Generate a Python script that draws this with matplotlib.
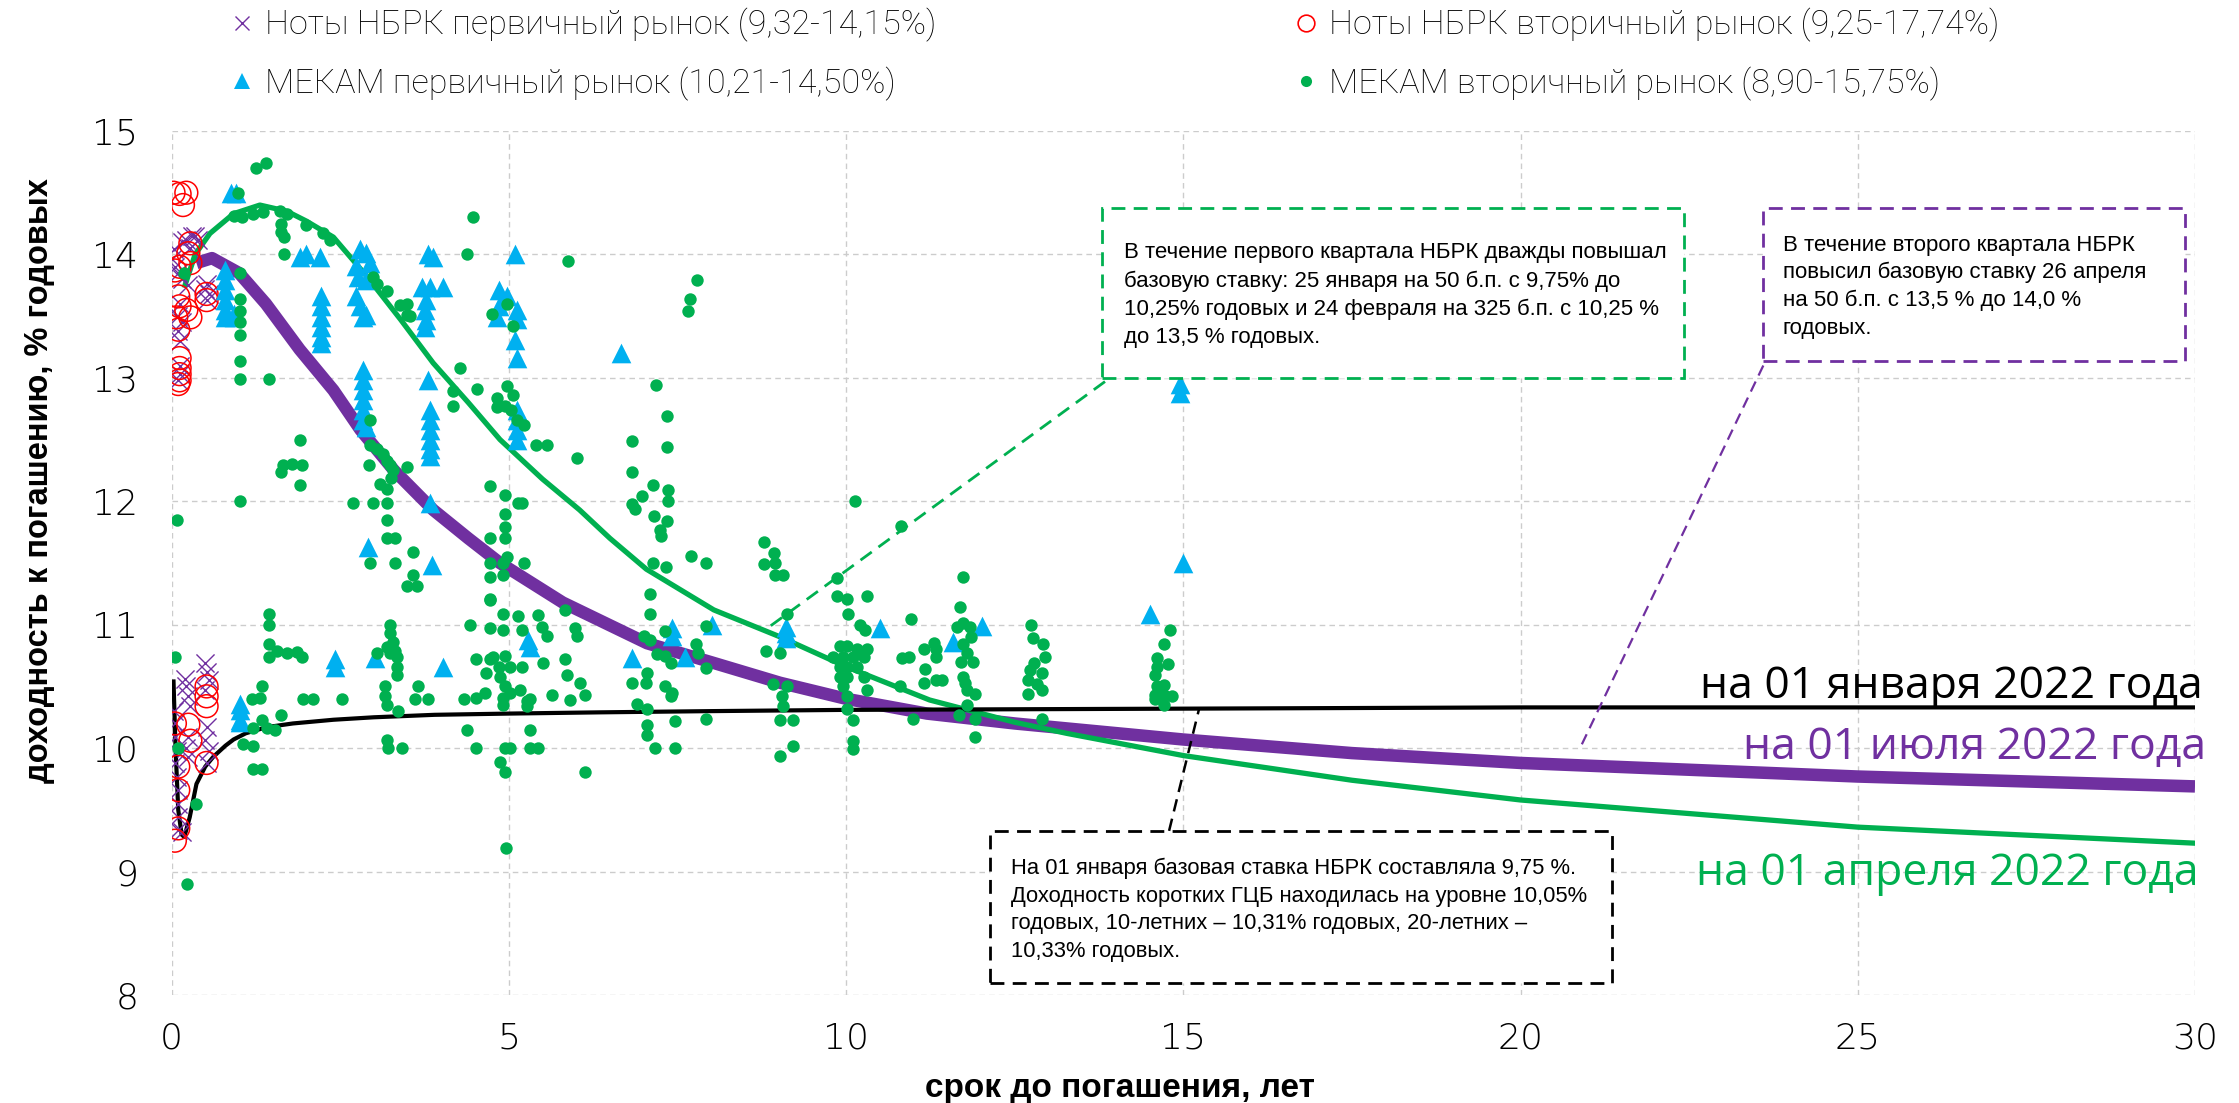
import matplotlib
matplotlib.use("Agg")
import matplotlib.pyplot as plt
from matplotlib.lines import Line2D
from matplotlib.patches import Rectangle

# ---- data ----
legend_labels = [
    "Ноты НБРК первичный рынок (9,32-14,15%)",
    "МЕКАМ первичный рынок (10,21-14,50%)",
    "Ноты НБРК вторичный рынок (9,25-17,74%)",
    "МЕКАМ вторичный рынок (8,90-15,75%)",
]
curve_labels = ["на 01 января 2022 года", "на 01 апреля 2022 года", "на 01 июля 2022 года"]

# zero-coupon curves
jan_x = [0.03, 0.06, 0.1, 0.15, 0.19, 0.27, 0.37, 0.5, 0.62, 0.8, 0.92, 1.1, 1.41, 1.8,
         2.4, 3.0, 3.9, 5.0, 6.35, 8, 10, 15, 20, 25, 30]
jan_y = [10.54, 10.0, 9.5, 9.3, 9.28, 9.44, 9.71, 9.85, 9.93, 10.02, 10.07, 10.12, 10.17, 10.2,
         10.23, 10.25, 10.27, 10.28, 10.29, 10.3, 10.31, 10.32, 10.33, 10.33, 10.33]

apr_x = [0.2, 0.35, 0.57, 0.92, 1.31, 1.71, 2.0, 2.4, 2.9, 3.4, 3.88, 4.4, 4.87, 5.5, 6.05,
         6.5, 7.04, 8.04, 9.03, 10.0, 11.24, 12.5, 13.27, 15, 17.5, 20, 25, 30]
apr_y = [13.75, 14.0, 14.17, 14.33, 14.4, 14.35, 14.27, 14.14, 13.82, 13.47, 13.12, 12.8,
         12.5, 12.18, 11.93, 11.7, 11.45, 11.12, 10.9, 10.66, 10.39, 10.21, 10.12, 9.94, 9.74,
         9.58, 9.36, 9.23]

jul_x = [0.37, 0.6, 1.0, 1.4, 1.9, 2.4, 2.8, 3.3, 3.88, 4.4, 4.87, 5.8, 7.05, 8.04, 9.02,
         10.0, 11.2, 12.5, 15, 17.5, 20, 25, 30]
jul_y = [13.93, 13.97, 13.85, 13.6, 13.23, 12.9, 12.58, 12.25, 11.93, 11.7, 11.5, 11.18,
         10.85, 10.69, 10.53, 10.4, 10.28, 10.2, 10.07, 9.96, 9.88, 9.77, 9.69]

# notes NBRK, primary market
np_x = [0.35, 0.22, 0.28, 0.15, 0.3, 0.4, 0.03, 0.0, 0.05, 0.1, 0.15, 0.25, 0.52, 0.5, 0.55,
        0.52, 0.13, 0.1, 0.15, 0.1, 0.13, 0.12, 0.12, 0.1,
        0.03, 0.05, 0.05, 0.08, 0.05, 0.08, 0.1, 0.1, 0.1, 0.1, 0.2, 0.22, 0.25, 0.28, 0.25,
        0.22, 0.25, 0.5, 0.52, 0.55, 0.5, 0.52, 0.5, 0.55, 0.52, 0.15]
np_y = [14.15, 14.12, 14.05, 14.1, 14.15, 14.12, 14.04, 13.96, 13.9, 13.85, 13.8, 13.75,
        13.76, 13.72, 13.68, 13.63, 13.6, 13.5, 13.45, 13.38, 13.3, 13.1, 13.03, 12.98,
        10.3, 10.2, 10.09, 9.98, 9.88, 9.77, 9.66, 9.55, 9.44, 9.34, 10.56, 10.5, 10.42,
        10.34, 10.09, 10.0, 9.93, 10.69, 10.62, 10.55, 10.47, 10.17, 10.07, 9.98, 9.88, 9.32]

# notes NBRK, secondary market
ns_x = [0.03, 0.12, 0.22, 0.17, 0.28, 0.25, 0.12, 0.28, 0.05, 0.52, 0.52, 0.1, 0.12, 0.22,
        0.07, 0.28, 0.1, 0.12, 0.12, 0.12, 0.12, 0.1,
        0.05, 0.25, 0.28, 0.52, 0.52, 0.52, 0.52, 0.1, 0.1, 0.1, 0.05]
ns_y = [14.5, 14.49, 14.5, 14.4, 14.09, 14.01, 13.9, 13.93, 13.87, 13.68, 13.63, 13.66,
        13.58, 13.55, 13.49, 13.49, 13.39, 13.16, 13.08, 13.03, 12.98, 12.95,
        10.2, 10.19, 10.06, 10.5, 10.42, 10.34, 9.88, 9.85, 9.66, 9.35, 9.25]

# MEKAM, primary market
mp_x = [0.88, 0.95, 0.79, 0.79, 0.79, 0.79, 0.79, 0.79, 0.92, 0.92,
        2.0, 2.2, 1.9, 2.22, 2.22, 2.22, 2.22, 2.22, 2.22,
        2.79, 2.89, 2.94, 2.74, 2.77, 2.89, 2.74, 2.79, 2.89, 2.84,
        2.84, 2.84, 2.84, 2.84, 2.84, 2.84, 2.89,
        3.81, 3.88, 3.71, 3.83, 4.03, 3.78, 3.76, 3.78, 3.76,
        3.81, 3.83, 3.83, 3.83, 3.83, 3.83, 3.83, 3.83,
        2.92, 3.86,
        5.09, 4.85, 4.97, 4.85, 5.12, 4.82, 5.12, 5.09, 5.12,
        5.12, 5.12, 5.12, 5.12, 6.66,
        1.02, 1.02, 1.02, 1.02, 2.42, 2.42, 3.02, 4.02, 5.29, 5.32,
        6.82, 7.42, 7.42, 7.61, 8.01, 9.11, 9.11, 9.11, 10.5,
        11.59, 12.01, 14.5, 15.0, 14.95, 14.95]
mp_y = [14.5, 14.5, 13.87, 13.79, 13.71, 13.63, 13.55, 13.49, 13.52, 13.49,
        14.0, 13.98, 13.98, 13.66, 13.58, 13.49, 13.41, 13.33, 13.28,
        14.04, 14.01, 13.93, 13.91, 13.82, 13.79, 13.66, 13.58, 13.51, 13.49,
        13.06, 12.98, 12.9, 12.82, 12.74, 12.66, 12.6,
        14.0, 13.98, 13.74, 13.74, 13.74, 13.63, 13.55, 13.47, 13.41,
        12.98, 12.74, 12.66, 12.58, 12.5, 12.42, 12.37, 11.99,
        11.63, 11.48,
        14.0, 13.71, 13.66, 13.58, 13.55, 13.49, 13.48, 13.31, 13.16,
        12.74, 12.66, 12.58, 12.5, 13.2,
        10.36, 10.31, 10.23, 10.21, 10.72, 10.66, 10.73, 10.66, 10.88, 10.82,
        10.73, 10.97, 10.91, 10.74, 11.0, 10.98, 10.93, 10.89, 10.97,
        10.86, 10.99, 11.09, 11.5, 12.95, 12.88]

# MEKAM, secondary market
ms_x = [1.26, 1.4, 0.99, 0.92, 1.05, 1.21, 1.36, 1.61, 1.71, 1.63, 1.63, 1.67, 1.67,
        2.0, 2.25, 2.35, 4.47, 4.38, 5.88, 1.02, 0.18,
        1.02, 1.02, 1.02, 1.02, 1.02, 1.02, 1.44,
        2.99, 3.04, 3.19, 3.39, 3.49, 3.49, 3.54,
        4.28, 4.53, 4.18, 4.18, 4.75, 4.97, 5.07,
        4.97, 5.07, 4.82, 4.82, 4.94, 5.04, 5.12, 5.22, 5.41, 5.56, 6.01,
        1.91, 1.66, 1.78, 1.93, 1.63, 1.91, 1.02, 0.08, 2.94,
        2.94, 3.04, 3.14, 3.19, 3.24, 3.29, 2.93, 3.09, 3.19, 3.19, 3.19, 3.19, 3.31, 3.49, 3.26,
        2.69, 2.98, 3.58, 3.58, 3.49, 3.64, 2.94, 3.31,
        4.72, 4.94, 5.14, 5.19, 4.94, 4.94, 4.94, 4.72, 4.97, 4.72, 4.92, 4.72, 4.92, 5.22, 4.72,
        0.05, 0.1, 0.37, 0.23,
        1.44, 1.44, 1.44, 1.44, 1.56, 1.71, 1.86, 1.93,
        1.34, 1.19, 1.31, 1.63, 1.34, 1.21, 1.41, 1.53, 1.06, 1.21, 1.21, 1.34,
        1.95, 2.1, 2.53,
        3.24, 3.24, 3.29, 3.31, 3.24, 3.34, 3.34, 3.34, 3.19, 3.04,
        3.17, 3.17, 3.19, 3.36, 3.19, 3.21, 3.41, 3.66, 3.61, 3.81,
        4.43, 4.33, 4.52, 4.52, 4.65, 4.67, 4.72, 4.77, 4.85, 4.87, 4.94, 4.92, 4.92, 5.02,
        5.02, 4.94, 5.17, 5.27, 5.27, 5.32,
        4.72, 4.92, 4.72, 4.92, 5.14, 5.19, 5.44, 5.49, 5.56, 5.19, 5.51, 5.83, 5.83, 5.86,
        5.98, 6.01, 6.06, 6.13, 5.64, 5.91,
        4.38, 4.52, 4.94, 4.87, 4.94, 5.02, 5.32, 5.32, 5.44, 6.13, 4.96,
        7.79, 7.69, 7.66, 7.19, 7.35, 7.35, 6.83, 6.83,
        7.14, 7.36, 7.36, 6.98, 6.82, 6.87, 7.15, 7.34, 7.24, 7.25,
        7.7, 7.92, 7.14, 7.33, 8.78, 8.93, 8.78, 8.95, 8.95, 9.07,
        10.13, 10.81, 9.86,
        7.09, 7.09, 7.32, 7.0, 7.09, 7.2, 7.32, 7.4, 7.05, 7.04, 6.83, 7.32, 7.42, 7.4,
        6.9, 7.05, 7.05, 7.05, 7.17, 7.46, 7.46,
        7.78, 7.81, 7.92, 7.92, 7.92,
        8.82, 9.02, 8.92, 9.12, 9.05, 9.07, 9.02, 9.22, 9.22, 9.02, 9.12,
        9.86, 10.01, 10.03, 10.21, 10.28, 10.31, 9.91, 10.01, 10.16, 10.31, 9.81, 9.96,
        10.11, 10.26, 9.91, 10.01, 10.16, 9.91, 10.01, 10.26, 9.96, 10.01, 10.01, 10.31,
        10.11, 10.11, 10.11,
        10.97, 10.83, 10.93, 10.8, 11.0, 11.15, 11.17, 11.15,
        11.74, 11.69, 11.3, 11.34, 11.34, 11.34, 11.42,
        11.74, 11.84, 11.86, 11.74, 11.79, 11.71, 11.89, 11.74, 11.76, 11.79, 11.91, 11.79,
        11.67, 11.91, 11.91, 11.64,
        12.75, 12.77, 12.92, 12.95, 12.78, 12.73, 12.9, 12.7, 12.83, 12.7, 12.9, 12.9,
        14.8, 14.71, 14.61, 14.78, 14.61, 14.58, 14.61, 14.71, 14.58, 14.71, 14.83, 14.71, 14.58]
ms_y = [14.7, 14.74, 14.5, 14.31, 14.3, 14.33, 14.34, 14.35, 14.33, 14.25, 14.18, 14.14, 14.0,
        14.24, 14.17, 14.12, 14.3, 14.0, 13.95, 13.85, 13.85,
        13.64, 13.54, 13.45, 13.35, 13.14, 12.99, 12.99,
        13.82, 13.76, 13.7, 13.59, 13.6, 13.51, 13.5,
        13.08, 12.91, 12.89, 12.77, 13.52, 13.6, 13.42,
        12.93, 12.86, 12.84, 12.76, 12.77, 12.74, 12.66, 12.62, 12.46, 12.46, 12.35,
        12.5, 12.29, 12.3, 12.29, 12.24, 12.13, 12.0, 11.85, 12.66,
        12.46, 12.42, 12.38, 12.33, 12.29, 12.25, 12.29, 12.14, 12.1, 11.99, 11.85, 11.7, 11.7, 12.28, 12.19,
        11.99, 11.99, 11.59, 11.4, 11.31, 11.31, 11.5, 11.5,
        12.12, 12.05, 11.99, 11.99, 11.9, 11.79, 11.7, 11.7, 11.55, 11.5, 11.5, 11.39, 11.4, 11.5, 11.21,
        10.74, 10.0, 9.55, 8.9,
        11.09, 11.0, 10.84, 10.74, 10.79, 10.77, 10.78, 10.74,
        10.5, 10.4, 10.41, 10.27, 10.23, 10.16, 10.16, 10.15, 10.03, 10.02, 9.83, 9.83,
        10.4, 10.4, 10.4,
        11.0, 10.93, 10.86, 10.79, 10.77, 10.74, 10.66, 10.59, 10.82, 10.77,
        10.5, 10.42, 10.35, 10.3, 10.07, 10.0, 10.0, 10.5, 10.4, 10.4,
        11.0, 10.4, 10.41, 10.72, 10.45, 10.61, 10.72, 10.74, 10.66, 10.58, 10.5, 10.41, 10.35, 10.45,
        10.66, 10.75, 10.47, 10.38, 10.34, 10.4,
        11.2, 11.09, 10.97, 10.96, 11.07, 10.96, 11.08, 10.98, 10.91, 10.66, 10.69, 11.12, 10.72, 10.59,
        10.97, 10.91, 10.53, 10.43, 10.43, 10.39,
        10.15, 10.0, 10.0, 9.89, 9.81, 10.0, 10.15, 10.0, 10.0, 9.81, 9.19,
        13.79, 13.64, 13.54, 12.94, 12.69, 12.44, 12.49, 12.24,
        12.13, 12.09, 12.0, 12.04, 11.98, 11.94, 11.88, 11.84, 11.77, 11.72,
        11.56, 11.5, 11.5, 11.47, 11.67, 11.58, 11.49, 11.5, 11.4, 11.4,
        12.0, 11.8, 11.38,
        11.25, 11.09, 10.95, 10.91, 10.88, 10.76, 10.75, 10.69, 10.61, 10.53, 10.53, 10.5, 10.45, 10.42,
        10.36, 10.32, 10.19, 10.11, 10.0, 10.0, 10.22,
        10.84, 10.77, 10.99, 10.65, 10.24,
        10.79, 10.77, 10.52, 10.5, 10.42, 10.34, 10.23, 10.23, 10.02, 9.94, 11.09,
        11.23, 11.21, 11.09, 11.0, 10.96, 11.23, 10.83, 10.83, 10.8, 10.8, 10.74, 10.74,
        10.74, 10.74, 10.66, 10.66, 10.66, 10.58, 10.58, 10.58, 10.5, 10.42, 10.32, 10.47,
        10.23, 10.06, 9.99,
        11.05, 10.73, 10.74, 10.5, 10.24, 10.8, 10.64, 10.53,
        11.39, 11.14, 10.85, 10.8, 10.74, 10.55, 10.55,
        11.01, 10.98, 10.9, 10.84, 10.77, 10.7, 10.7, 10.58, 10.53, 10.47, 10.44, 10.35,
        10.27, 10.24, 10.09, 10.98,
        11.0, 10.89, 10.84, 10.74, 10.69, 10.63, 10.61, 10.55, 10.52, 10.44, 10.47, 10.24,
        10.96, 10.84, 10.73, 10.68, 10.66, 10.59, 10.5, 10.51, 10.43, 10.43, 10.42, 10.35, 10.4]

note_green = ("В течение первого квартала НБРК дважды повышал\n"
              "базовую ставку: 25 января на 50 б.п. с 9,75% до\n"
              "10,25% годовых и 24 февраля на 325 б.п. с 10,25 %\n"
              "до 13,5 % годовых.")
note_purple = ("В течение второго квартала НБРК\n"
               "повысил базовую ставку 26 апреля\n"
               "на 50 б.п. с 13,5 % до 14,0 %\n"
               "годовых.")
note_black = ("На 01 января базовая ставка НБРК составляла 9,75 %.\n"
              "Доходность коротких ГЦБ находилась на уровне 10,05%\n"
              "годовых, 10-летних – 10,31% годовых, 20-летних –\n"
              "10,33% годовых.")

PURPLE = "#7030A0"
GREEN = "#00B050"
BLUE = "#00B0F0"
RED = "#FF0000"

W, H = 2239, 1103
fig = plt.figure(figsize=(W / 100, H / 100), dpi=100)
ax = fig.add_axes([171.5 / W, 1 - 995 / H, (2195 - 171.5) / W, (995 - 131) / H])

ax.set_xlim(0, 30)
ax.set_ylim(8, 15)
ax.set_xticks(range(0, 31, 5))
ax.set_yticks(range(8, 16))
ax.grid(True, color="#CCCCCC", linestyle=(0, (4, 3)), linewidth=1)
ax.set_axisbelow(True)
for s in ax.spines.values():
    s.set_visible(False)
ax.tick_params(axis="both", length=0, labelsize=26, colors="black")
ax.tick_params(axis="y", pad=24)
ax.tick_params(axis="x", pad=19)
for lab in ax.get_xticklabels() + ax.get_yticklabels():
    lab.set_fontfamily("DejaVu Sans")
    lab.set_fontweight("light")

# curves
ax.plot(jul_x, jul_y, color=PURPLE, lw=9, solid_capstyle="butt", solid_joinstyle="round", zorder=2)
ax.plot(apr_x, apr_y, color=GREEN, lw=3.8, solid_joinstyle="round", zorder=2)
ax.plot(jan_x, jan_y, color="black", lw=3, solid_joinstyle="round", zorder=2)

# scatter
ax.scatter(np_x, np_y, marker="x", s=170, color=PURPLE, linewidths=1, zorder=3)
ax.scatter(ns_x, ns_y, marker="o", s=270, facecolors="none", edgecolors=RED, linewidths=1.1, zorder=4)
ax.scatter(mp_x, mp_y, marker="^", s=200, color=BLUE, linewidths=0, zorder=5)
ax.scatter(ms_x, ms_y, marker="o", s=80, color=GREEN, linewidths=0, zorder=6)

# curve labels
ax.text(30.12, 10.5, curve_labels[0], ha="right", va="center", fontsize=32,
        family="Open Sans", color="black", clip_on=False)
ax.text(30.16, 10.0, curve_labels[2], ha="right", va="center", fontsize=32,
        family="Open Sans", color=PURPLE, clip_on=False)
ax.text(30.06, 8.98, curve_labels[1], ha="right", va="center", fontsize=32,
        family="Open Sans", color=GREEN, clip_on=False)

# annotation boxes and leader lines
box_style = dict(fill=True, facecolor="white", linewidth=2, linestyle=(0, (5, 3)), zorder=7)
ax.add_patch(Rectangle((13.8, 13.0), 22.42 - 13.8, 14.38 - 13.0, edgecolor=GREEN, **box_style))
ax.add_patch(Rectangle((23.6, 13.14), 29.85 - 23.6, 14.38 - 13.14, edgecolor=PURPLE, **box_style))
ax.add_patch(Rectangle((12.13, 8.1), 21.36 - 12.13, 9.33 - 8.1, edgecolor="black", **box_style))
ax.plot([13.84, 8.83], [12.97, 10.97], color=GREEN, lw=2, linestyle=(0, (5, 3)), zorder=7)
ax.plot([23.6, 20.9], [13.1, 10.02], color=PURPLE, lw=1.6, linestyle=(0, (5, 3)), zorder=7)
ax.plot([14.79, 15.24], [9.33, 10.33], color="black", lw=1.8, linestyle=(0, (5, 3)), zorder=7)

ax.text(14.12, 13.67, note_green, ha="left", va="center", fontsize=16, linespacing=1.45,
        family="Liberation Sans", zorder=8)
ax.text(23.89, 13.74, note_purple, ha="left", va="center", fontsize=16, linespacing=1.4,
        family="Liberation Sans", zorder=8)
ax.text(12.44, 8.69, note_black, ha="left", va="center", fontsize=15.8, linespacing=1.42,
        family="Liberation Sans", zorder=8)

# axis titles
fig.text(1120 / W, 1 - 1088 / H, "срок до погашения, лет", ha="center", va="center",
         fontsize=24, fontweight="bold", family="Liberation Sans")
fig.text(40 / W, 1 - 481 / H, "доходность к погашению, % годовых", ha="center", va="center",
         rotation=90, fontsize=23.5, fontweight="bold", family="Liberation Sans")

# legend, two columns placed separately
h_np = Line2D([], [], marker="x", color=PURPLE, linestyle="none", markersize=10, markeredgewidth=1)
h_mp = Line2D([], [], marker="^", color=BLUE, linestyle="none", markersize=11, markeredgewidth=0)
h_ns = Line2D([], [], marker="o", markerfacecolor="none", markeredgecolor=RED, linestyle="none",
              markersize=12, markeredgewidth=1.2)
h_ms = Line2D([], [], marker="o", color=GREEN, linestyle="none", markersize=8, markeredgewidth=0)
leg_kw = dict(loc="upper left", frameon=False, handlelength=0.8, handletextpad=0.3,
              labelspacing=0.72, borderpad=0, borderaxespad=0,
              prop={"family": "Roboto", "weight": "light", "size": 24.5})
fig.legend([h_np, h_mp], legend_labels[:2], bbox_to_anchor=(228 / W, 1 - 8 / H), **leg_kw)
fig.legend([h_ns, h_ms], legend_labels[2:], bbox_to_anchor=(1292 / W, 1 - 8 / H), **leg_kw)

fig.savefig("out.png", dpi=100, facecolor="white")
